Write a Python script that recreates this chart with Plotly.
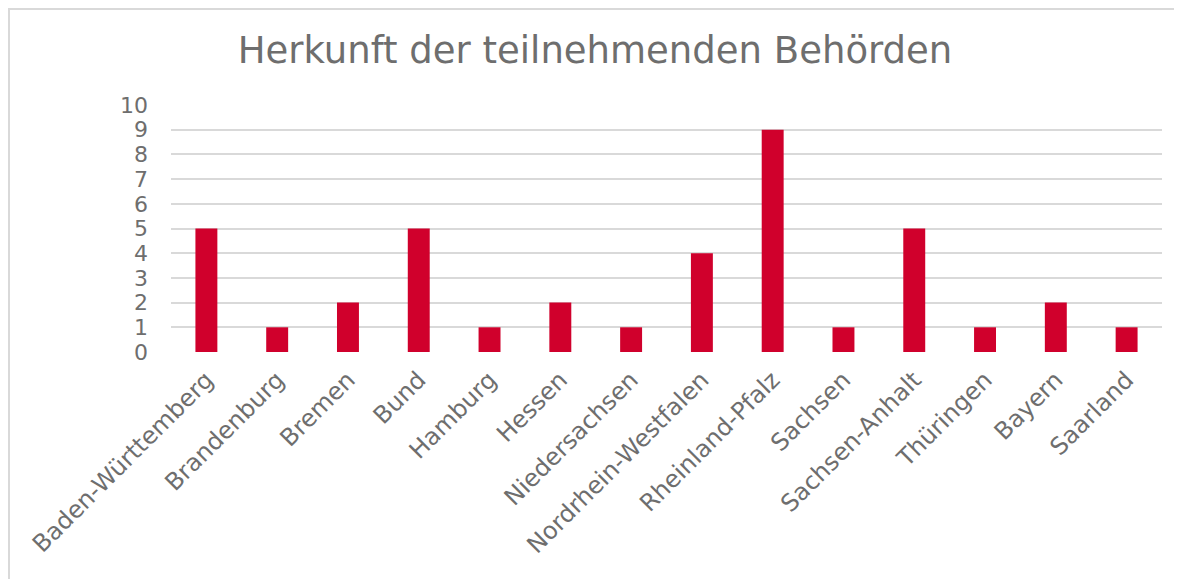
import plotly.graph_objects as go

categories = ["Baden-Württemberg", "Brandenburg", "Bremen", "Bund", "Hamburg", "Hessen",
              "Niedersachsen", "Nordrhein-Westfalen", "Rheinland-Pfalz", "Sachsen",
              "Sachsen-Anhalt", "Thüringen", "Bayern", "Saarland"]
values = [5, 1, 2, 5, 1, 2, 1, 4, 9, 1, 5, 1, 2, 1]
y_ticks = list(range(0, 11))

# page has an 8px body margin; size figure to fit inside the window
W, H = 1174, 571
L, R, T, B = 163, 20, 97, 227
pw, ph = W - L - R, H - T - B

fig = go.Figure(go.Bar(x=categories, y=values, marker=dict(color="#D0002C", line=dict(width=0))))

def px_x(px):
    return (px - L) / pw

def px_y(py):
    return (H - B - py) / ph

border = "#D9D9D9"
gray = "#6E6E6E"
fig.update_layout(
    width=W, height=H,
    margin=dict(l=L, r=R, t=T, b=B),
    paper_bgcolor="white", plot_bgcolor="white",
    font=dict(family="DejaVu Sans, Verdana, sans-serif", color=gray),
    title=dict(text="Herkunft der teilnehmenden Behörden", x=0.5, xanchor="center",
               y=1 - 42 / H, yanchor="middle",
               font=dict(size=37, color=gray)),
    bargap=0.69,
    showlegend=False,
    xaxis=dict(tickangle=-45, tickfont=dict(size=24, color=gray), showgrid=False,
               showline=False, ticks="", automargin=False, ticklabelstandoff=8),
    yaxis=dict(range=[0, 10], tickvals=y_ticks, tickfont=dict(size=22, color=gray),
               showgrid=True, gridcolor="#D9D9D9", gridwidth=2, zeroline=False,
               ticks="", ticklabelstandoff=22, automargin=False, fixedrange=True),
    shapes=[
        dict(type="line", xref="paper", yref="paper", x0=px_x(1), x1=px_x(1),
             y0=px_y(700), y1=px_y(0), line=dict(color=border, width=2)),
        dict(type="line", xref="paper", yref="paper", x0=px_x(0), x1=px_x(1200),
             y0=px_y(1), y1=px_y(1), line=dict(color=border, width=2)),
    ],
)
fig.write_html("out.html")
